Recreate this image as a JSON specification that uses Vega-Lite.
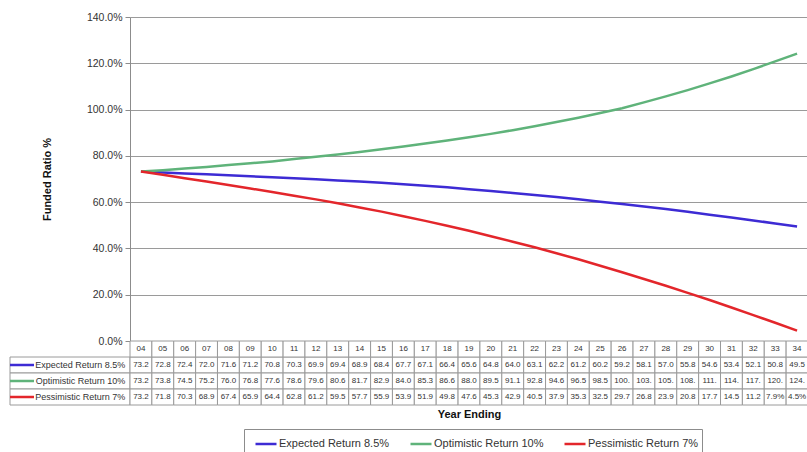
{
  "$schema": "https://vega.github.io/schema/vega-lite/v6.json",
  "padding": {"left": 8, "top": 12, "right": 0, "bottom": 0},
  "autosize": {"type": "pad"},
  "background": "white",
  "config": {"view": {"stroke": null}, "font": "Liberation Sans"},
  "datasets": {
    "d": [
      {"yr":"04","s":"Expected Return 8.5%","v":73.2},{"yr":"05","s":"Expected Return 8.5%","v":72.8},{"yr":"06","s":"Expected Return 8.5%","v":72.4},{"yr":"07","s":"Expected Return 8.5%","v":72.0},{"yr":"08","s":"Expected Return 8.5%","v":71.6},{"yr":"09","s":"Expected Return 8.5%","v":71.2},{"yr":"10","s":"Expected Return 8.5%","v":70.8},{"yr":"11","s":"Expected Return 8.5%","v":70.3},{"yr":"12","s":"Expected Return 8.5%","v":69.9},{"yr":"13","s":"Expected Return 8.5%","v":69.4},{"yr":"14","s":"Expected Return 8.5%","v":68.9},{"yr":"15","s":"Expected Return 8.5%","v":68.4},{"yr":"16","s":"Expected Return 8.5%","v":67.7},{"yr":"17","s":"Expected Return 8.5%","v":67.1},{"yr":"18","s":"Expected Return 8.5%","v":66.4},{"yr":"19","s":"Expected Return 8.5%","v":65.6},{"yr":"20","s":"Expected Return 8.5%","v":64.8},{"yr":"21","s":"Expected Return 8.5%","v":64.0},{"yr":"22","s":"Expected Return 8.5%","v":63.1},{"yr":"23","s":"Expected Return 8.5%","v":62.2},{"yr":"24","s":"Expected Return 8.5%","v":61.2},{"yr":"25","s":"Expected Return 8.5%","v":60.2},{"yr":"26","s":"Expected Return 8.5%","v":59.2},{"yr":"27","s":"Expected Return 8.5%","v":58.1},{"yr":"28","s":"Expected Return 8.5%","v":57.0},{"yr":"29","s":"Expected Return 8.5%","v":55.8},{"yr":"30","s":"Expected Return 8.5%","v":54.6},{"yr":"31","s":"Expected Return 8.5%","v":53.4},{"yr":"32","s":"Expected Return 8.5%","v":52.1},{"yr":"33","s":"Expected Return 8.5%","v":50.8},{"yr":"34","s":"Expected Return 8.5%","v":49.5},
      {"yr":"04","s":"Optimistic Return 10%","v":73.2},{"yr":"05","s":"Optimistic Return 10%","v":73.8},{"yr":"06","s":"Optimistic Return 10%","v":74.5},{"yr":"07","s":"Optimistic Return 10%","v":75.2},{"yr":"08","s":"Optimistic Return 10%","v":76.0},{"yr":"09","s":"Optimistic Return 10%","v":76.8},{"yr":"10","s":"Optimistic Return 10%","v":77.6},{"yr":"11","s":"Optimistic Return 10%","v":78.6},{"yr":"12","s":"Optimistic Return 10%","v":79.6},{"yr":"13","s":"Optimistic Return 10%","v":80.6},{"yr":"14","s":"Optimistic Return 10%","v":81.7},{"yr":"15","s":"Optimistic Return 10%","v":82.9},{"yr":"16","s":"Optimistic Return 10%","v":84.0},{"yr":"17","s":"Optimistic Return 10%","v":85.3},{"yr":"18","s":"Optimistic Return 10%","v":86.6},{"yr":"19","s":"Optimistic Return 10%","v":88.0},{"yr":"20","s":"Optimistic Return 10%","v":89.5},{"yr":"21","s":"Optimistic Return 10%","v":91.1},{"yr":"22","s":"Optimistic Return 10%","v":92.8},{"yr":"23","s":"Optimistic Return 10%","v":94.6},{"yr":"24","s":"Optimistic Return 10%","v":96.5},{"yr":"25","s":"Optimistic Return 10%","v":98.5},{"yr":"26","s":"Optimistic Return 10%","v":100.6},{"yr":"27","s":"Optimistic Return 10%","v":103.1},{"yr":"28","s":"Optimistic Return 10%","v":105.7},{"yr":"29","s":"Optimistic Return 10%","v":108.4},{"yr":"30","s":"Optimistic Return 10%","v":111.3},{"yr":"31","s":"Optimistic Return 10%","v":114.3},{"yr":"32","s":"Optimistic Return 10%","v":117.5},{"yr":"33","s":"Optimistic Return 10%","v":120.8},{"yr":"34","s":"Optimistic Return 10%","v":124.2},
      {"yr":"04","s":"Pessimistic Return 7%","v":73.2},{"yr":"05","s":"Pessimistic Return 7%","v":71.8},{"yr":"06","s":"Pessimistic Return 7%","v":70.3},{"yr":"07","s":"Pessimistic Return 7%","v":68.9},{"yr":"08","s":"Pessimistic Return 7%","v":67.4},{"yr":"09","s":"Pessimistic Return 7%","v":65.9},{"yr":"10","s":"Pessimistic Return 7%","v":64.4},{"yr":"11","s":"Pessimistic Return 7%","v":62.8},{"yr":"12","s":"Pessimistic Return 7%","v":61.2},{"yr":"13","s":"Pessimistic Return 7%","v":59.5},{"yr":"14","s":"Pessimistic Return 7%","v":57.7},{"yr":"15","s":"Pessimistic Return 7%","v":55.9},{"yr":"16","s":"Pessimistic Return 7%","v":53.9},{"yr":"17","s":"Pessimistic Return 7%","v":51.9},{"yr":"18","s":"Pessimistic Return 7%","v":49.8},{"yr":"19","s":"Pessimistic Return 7%","v":47.6},{"yr":"20","s":"Pessimistic Return 7%","v":45.3},{"yr":"21","s":"Pessimistic Return 7%","v":42.9},{"yr":"22","s":"Pessimistic Return 7%","v":40.5},{"yr":"23","s":"Pessimistic Return 7%","v":37.9},{"yr":"24","s":"Pessimistic Return 7%","v":35.3},{"yr":"25","s":"Pessimistic Return 7%","v":32.5},{"yr":"26","s":"Pessimistic Return 7%","v":29.7},{"yr":"27","s":"Pessimistic Return 7%","v":26.8},{"yr":"28","s":"Pessimistic Return 7%","v":23.9},{"yr":"29","s":"Pessimistic Return 7%","v":20.8},{"yr":"30","s":"Pessimistic Return 7%","v":17.7},{"yr":"31","s":"Pessimistic Return 7%","v":14.5},{"yr":"32","s":"Pessimistic Return 7%","v":11.2},{"yr":"33","s":"Pessimistic Return 7%","v":7.9},{"yr":"34","s":"Pessimistic Return 7%","v":4.5}
    ]
  },
  "data": {"name": "d"},
  "columns": 2,
  "spacing": 0,
  "bounds": "flush",
  "concat": [
    {
      "width": 120, "height": 324,
      "data": {"values": [{"t": ""}]},
      "mark": {"type": "text"},
      "encoding": {"text": {"field": "t"}}
    },
    {
      "width": 678, "height": 324,
      "mark": {"type": "line", "strokeWidth": 2.5},
      "encoding": {
        "x": {"field": "yr", "type": "ordinal", "scale": {"type": "point", "padding": 0.5}, "axis": null},
        "y": {"field": "v", "type": "quantitative", "scale": {"domain": [0, 140], "nice": false},
          "axis": {"values": [0, 20, 40, 60, 80, 100, 120, 140], "labelExpr": "format(datum.value, '.1f') + '%'",
            "title": "Funded Ratio %", "titleFontSize": 11, "titleFontWeight": "bold", "titleColor": "#111", "titlePadding": 34,
            "grid": true, "gridColor": "#9a9a9a", "gridOpacity": 1, "domainColor": "#8c8c8c", "tickColor": "#8c8c8c", "tickSize": 5,
            "labelFontSize": 10.5, "labelColor": "#333", "labelPadding": 3}},
        "color": {"field": "s", "type": "nominal",
          "scale": {"domain": ["Expected Return 8.5%", "Optimistic Return 10%", "Pessimistic Return 7%"], "range": ["#3d2bd4", "#5fb37a", "#e3262b"]},
          "legend": {"orient": "none", "legendX": 234, "legendY": 412, "direction": "horizontal", "title": null,
            "symbolType": "stroke", "symbolStrokeWidth": 2.5, "symbolSize": 441, "labelFontSize": 11, "labelColor": "#333",
            "labelOffset": 1, "gridAlign": "none", "columnPadding": 12, "strokeColor": "#8c8c8c", "fillColor": "white", "padding": 3, "symbolOffset": 7}}
      }
    },
    {
      "width": 120, "height": 64,
      "transform": [{"filter": "datum.yr == '04'"}],
      "layer": [
        {
          "mark": {"type": "rect", "fill": "white", "stroke": "#9a9a9a", "strokeWidth": 1},
          "encoding": {
            "x": {"datum": 0, "type": "quantitative", "scale": {"domain": [0, 1]}, "axis": null},
            "x2": {"datum": 1},
            "y": {"field": "s", "type": "nominal", "scale": {"domain": ["hdr", "Expected Return 8.5%", "Optimistic Return 10%", "Pessimistic Return 7%"], "paddingInner": 0, "paddingOuter": 0}, "axis": null}
          }
        },
        {
          "mark": {"type": "rule", "strokeWidth": 2.5},
          "encoding": {
            "x": {"datum": 0, "type": "quantitative"},
            "x2": {"datum": 0.2},
            "y": {"field": "s", "type": "nominal"},
            "color": {"field": "s", "type": "nominal", "legend": null}
          }
        },
        {
          "mark": {"type": "text", "align": "right", "fontSize": 9, "color": "#333"},
          "encoding": {
            "x": {"datum": 0.96, "type": "quantitative"},
            "y": {"field": "s", "type": "nominal"},
            "text": {"field": "s"}
          }
        }
      ]
    },
    {
      "width": 678, "height": 64,
      "layer": [
        {
          "mark": {"type": "rect", "fill": "white", "stroke": "#9a9a9a", "strokeWidth": 1},
          "encoding": {
            "x": {"field": "yr", "type": "ordinal", "scale": {"paddingInner": 0, "paddingOuter": 0},
              "axis": {"title": "Year Ending", "labels": false, "ticks": false, "domain": false, "titleFontSize": 11, "titleFontWeight": "bold", "titleColor": "#111", "titlePadding": 3}},
            "y": {"field": "s", "type": "nominal", "scale": {"domain": ["hdr", "Expected Return 8.5%", "Optimistic Return 10%", "Pessimistic Return 7%"], "paddingInner": 0, "paddingOuter": 0}, "axis": null}
          }
        },
        {
          "transform": [{"filter": "datum.s == 'Expected Return 8.5%'"}],
          "mark": {"type": "rect", "fill": "white", "stroke": "#9a9a9a", "strokeWidth": 1},
          "encoding": {
            "x": {"field": "yr", "type": "ordinal"},
            "y": {"datum": "hdr", "type": "nominal"}
          }
        },
        {
          "transform": [{"calculate": "datum.v >= 100 ? floor(datum.v) + '.' : (datum.v < 10 ? format(datum.v, '.1f') + '%' : format(datum.v, '.1f'))", "as": "lbl"}],
          "mark": {"type": "text", "fontSize": 8, "color": "#333"},
          "encoding": {
            "x": {"field": "yr", "type": "ordinal"},
            "y": {"field": "s", "type": "nominal"},
            "text": {"field": "lbl"}
          }
        },
        {
          "transform": [{"filter": "datum.s == 'Expected Return 8.5%'"}],
          "mark": {"type": "text", "fontSize": 8, "color": "#333"},
          "encoding": {
            "x": {"field": "yr", "type": "ordinal"},
            "y": {"datum": "hdr", "type": "nominal"},
            "text": {"field": "yr"}
          }
        }
      ]
    }
  ]
}
